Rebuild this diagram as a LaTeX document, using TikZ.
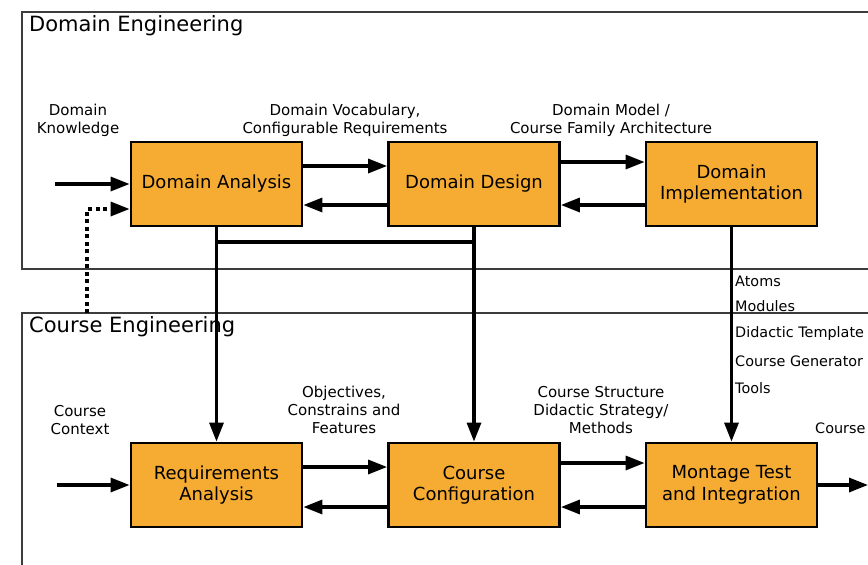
\documentclass[tikz,border=0pt]{standalone}
\usepackage{fontspec}
\setmainfont{DejaVu Sans}
\usetikzlibrary{arrows.meta}
\definecolor{boxfill}{RGB}{246,172,50}
\definecolor{framecol}{RGB}{60,60,60}
\tikzset{
  procbox/.style={draw=black, line width=2.8pt, fill=boxfill, minimum width=171pt, minimum height=84pt, align=center, inner sep=0pt, font=\fontsize{18}{21.5}\selectfont},
  arr/.style={line width=3.3pt, -{Triangle[length=19pt,width=14pt]}},
  plain/.style={line width=3.3pt},
  dasharr/.style={line width=3.3pt, dash pattern=on 4pt off 3.5pt, -{Triangle[length=19pt,width=14pt]}},
  frame/.style={draw=framecol, line width=1.4pt},
  lbl/.style={align=center, inner sep=0pt, font=\fontsize{15}{18}\selectfont},
  lst/.style={anchor=west, inner sep=0pt, font=\fontsize{14.4}{18}\selectfont},
  ttl/.style={anchor=north west, inner sep=0pt, font=\fontsize{21}{24}\selectfont}
}
\begin{document}
\begin{tikzpicture}[x=1pt,y=-1pt]
\useasboundingbox (0,0) rectangle (868,565);
\clip (0,0) rectangle (868,565);
\fill[white] (0,0) rectangle (868,565);
% frames
\draw[frame] (22,12) rectangle (900,269);
\draw[frame] (22,313) rectangle (900,600);
\node[ttl] (t1) at (29,15) {Domain Engineering};
\node[ttl] (t2) at (29,316) {Course Engineering};
% boxes
\node[procbox] (da) at (216.5,184) {Domain Analysis};
\node[procbox] (dd) at (474,184) {Domain Design};
\node[procbox] (di) at (731.5,184) {Domain\\Implementation};
\node[procbox] (ra) at (216.5,485) {Requirements\\Analysis};
\node[procbox] (cc) at (474,485) {Course\\Configuration};
\node[procbox] (mt) at (731.5,485) {Montage Test\\and Integration};
% labels
\node[lbl] (l1) at (78,120) {Domain\\Knowledge};
\node[lbl] (l2) at (345,120) {Domain Vocabulary,\\Configurable Requirements};
\node[lbl] (l3) at (611,120) {Domain Model /\\Course Family Architecture};
\node[lbl] (l4) at (80,420) {Course\\Context};
\node[lbl] (l5) at (344,410) {Objectives,\\Constrains and\\Features};
\node[lbl] (l6) at (601,410) {Course Structure\\Didactic Strategy/\\Methods};
\node[lst] (a1) at (735,281) {Atoms};
\node[lst] (a2) at (735,306) {Modules};
\node[lst] (a3) at (735,334) {Didactic Template};
\node[lst] (a4) at (735,361) {Course Generator};
\node[lst] (a5) at (735,388) {Tools};
\node[lst] (a6) at (815,428) {Course};
% coordinates
\coordinate (dkin) at (55,184);
\coordinate (ccin) at (57,485);
\coordinate (dsh) at (87,313);
\coordinate (out) at (868,485);
\coordinate (j1) at (216.5,242);
\coordinate (j2) at (474,242);
% connectors
\draw[arr] (dkin) -- (da.west);
\draw[dasharr] (dsh) |- ([yshift=-25pt]da.west);
\draw[arr] ([yshift=18pt]da.east) -- ([yshift=18pt]dd.west);
\draw[arr] ([yshift=-21pt]dd.west) -- ([yshift=-21pt]da.east);
\draw[arr] ([yshift=22pt]dd.east) -- ([yshift=22pt]di.west);
\draw[arr] ([yshift=-21pt]di.west) -- ([yshift=-21pt]dd.east);
\draw[arr] (da.south) -- (ra.north);
\draw[plain] (j1) -- (j2);
\draw[arr] (dd.south) -- (cc.north);
\draw[arr] (di.south) -- (mt.north);
\draw[arr] (ccin) -- (ra.west);
\draw[arr] ([yshift=18pt]ra.east) -- ([yshift=18pt]cc.west);
\draw[arr] ([yshift=-22pt]cc.west) -- ([yshift=-22pt]ra.east);
\draw[arr] ([yshift=22pt]cc.east) -- ([yshift=22pt]mt.west);
\draw[arr] ([yshift=-22pt]mt.west) -- ([yshift=-22pt]cc.east);
\draw[arr] (mt.east) -- (out);
\end{tikzpicture}
\end{document}
